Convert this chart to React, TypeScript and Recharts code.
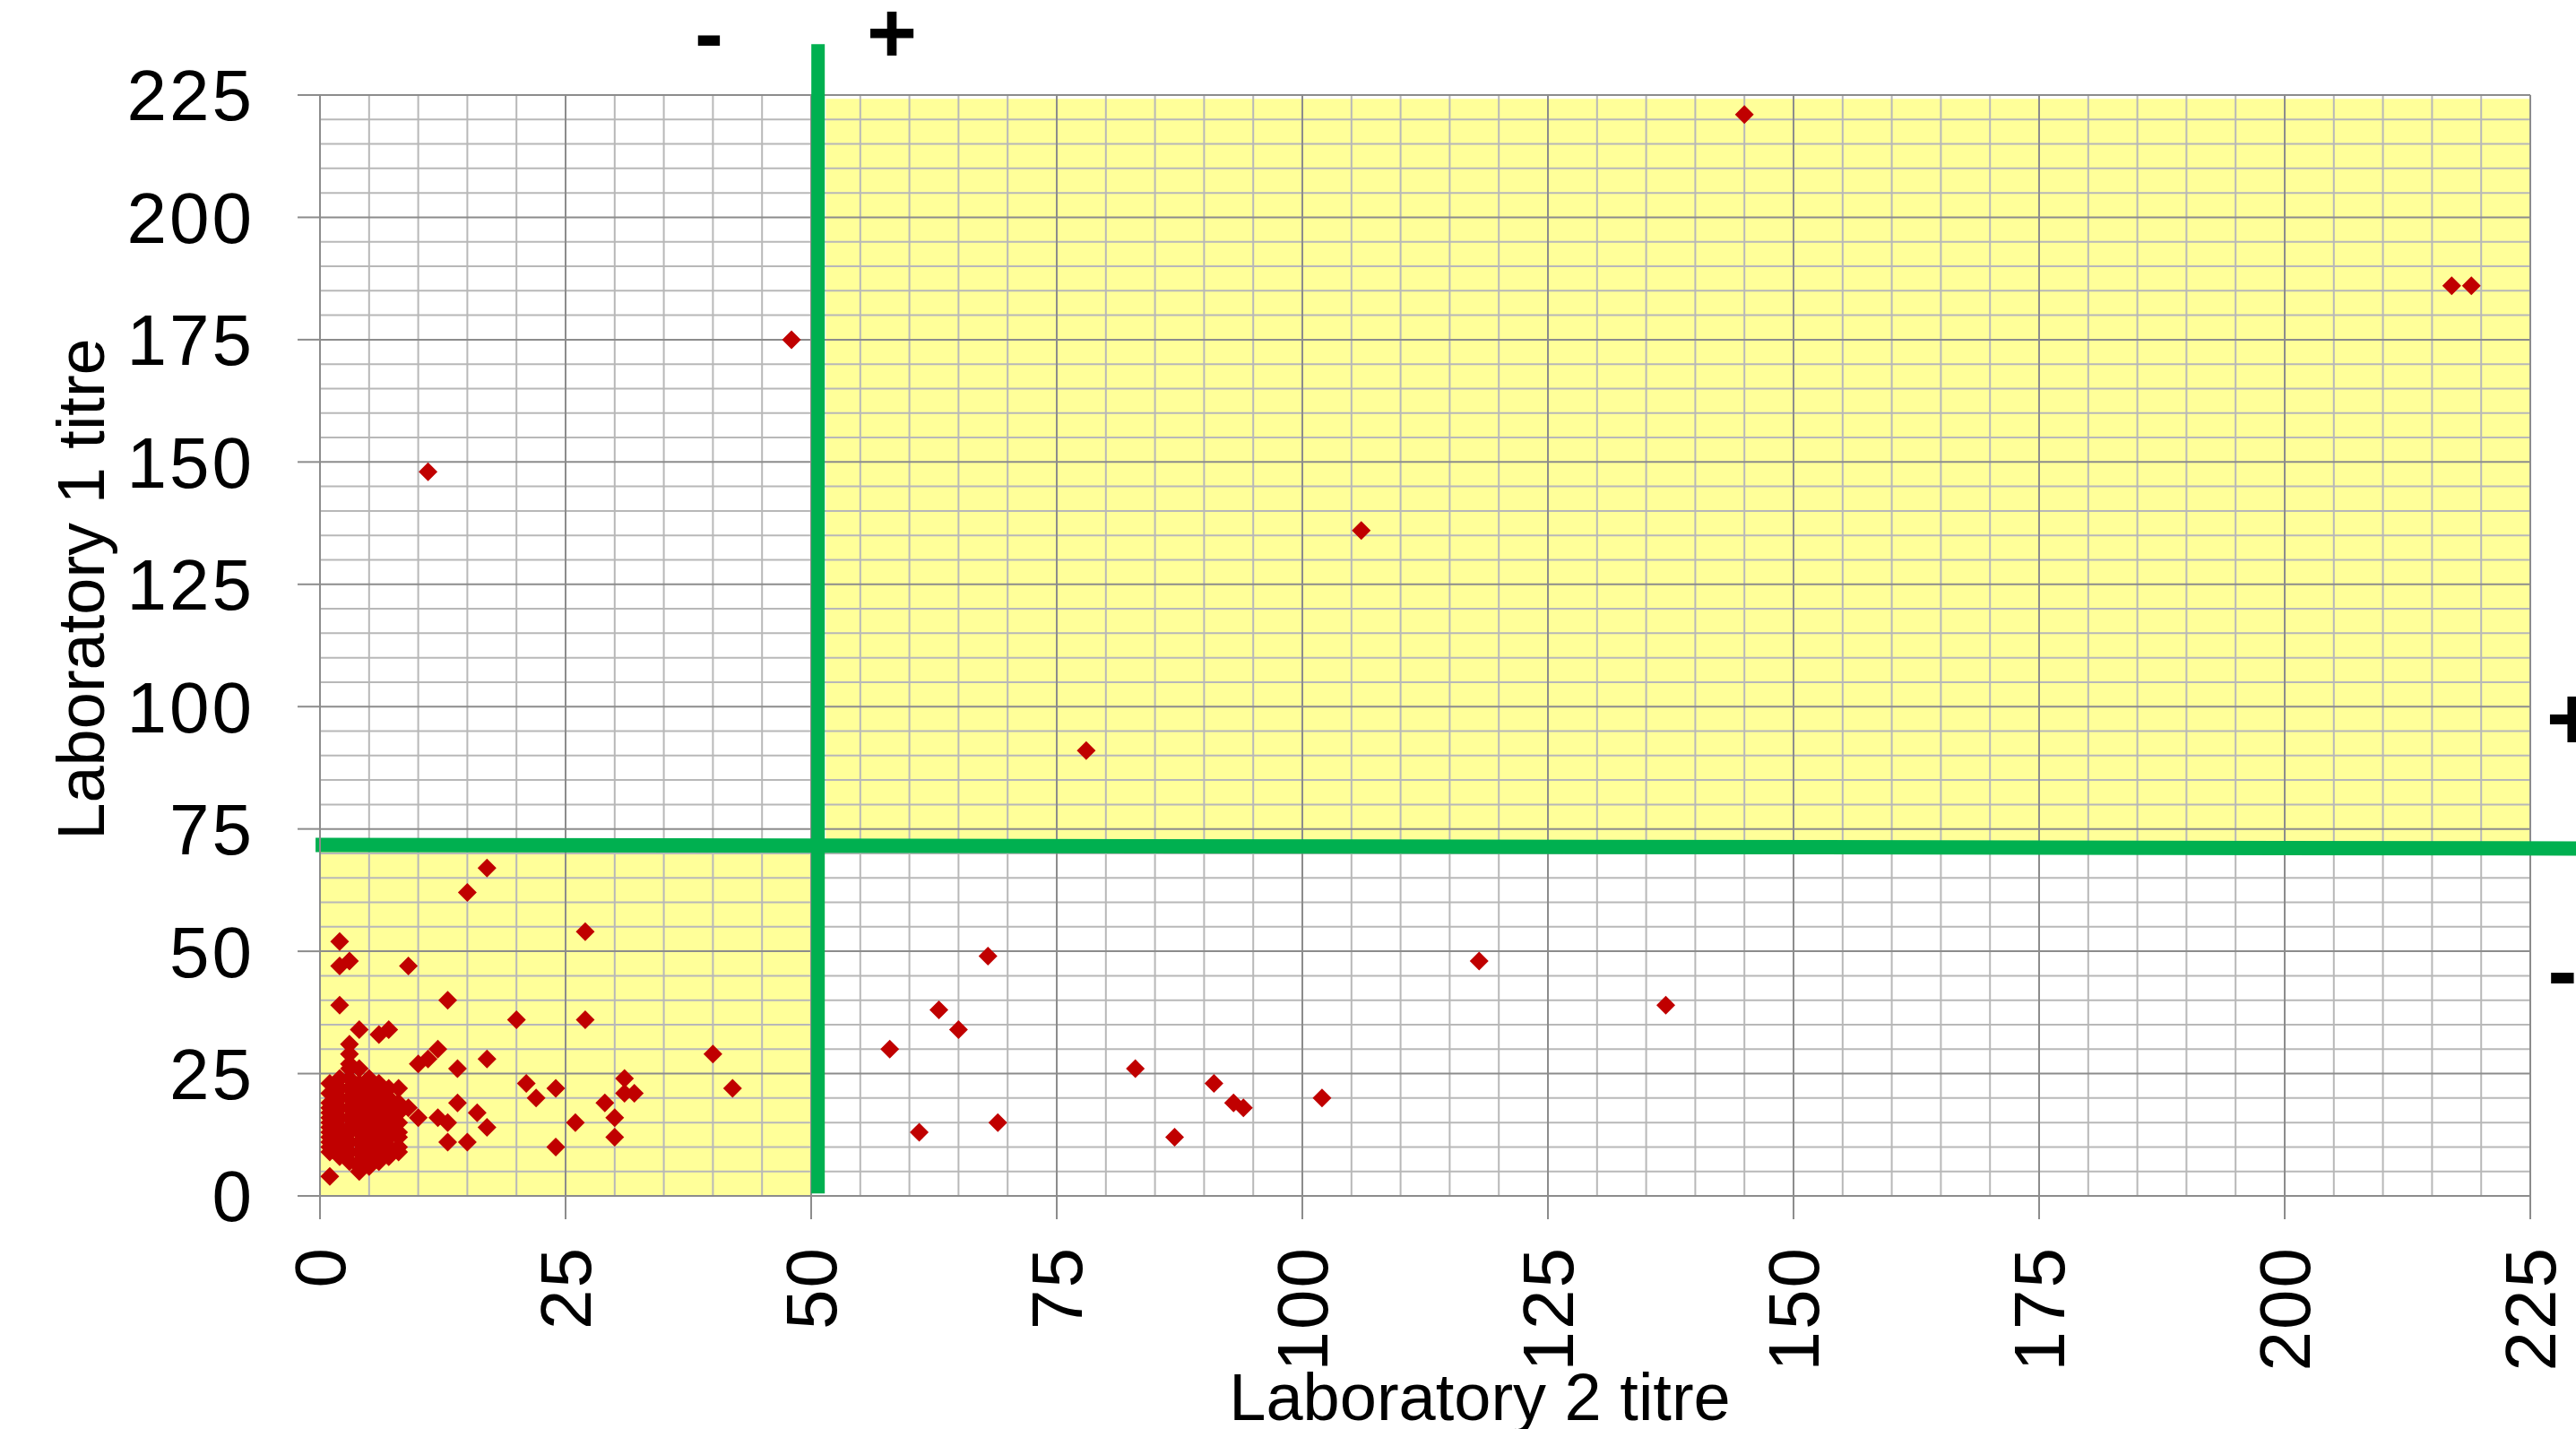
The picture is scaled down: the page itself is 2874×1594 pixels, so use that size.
import React from "react"
import {
  ScatterChart, Scatter, XAxis, YAxis, CartesianGrid,
  ReferenceArea, ReferenceLine,
} from "recharts"

const lab2Titre = [
  145, 217, 219, 48, 11, 106, 78,
  17, 15, 27, 2, 3, 2, 9, 2, 13, 20, 27,
  118, 137, 68, 63, 65, 58, 83, 91, 93, 94, 102, 61, 69, 87,
  40, 42,
  4, 6, 7, 3, 12, 11, 10, 17, 14, 3, 3, 4,
  21, 24, 22, 31, 31, 32, 29, 30, 30, 26, 24,
  14, 16, 17, 12, 13, 13, 15, 9, 10, 8, 7, 6, 1, 1, 4,
  3, 2, 3, 5, 4, 2, 3, 5, 1, 4, 6, 2, 3, 5, 7, 1, 4, 6, 8,
  1, 2, 3, 5, 7, 1, 4, 6, 8, 1, 2, 3, 5, 7, 1, 4, 6, 8,
  1, 2, 3, 5, 7, 1, 3, 4, 6, 8, 1, 2, 5, 7, 8, 1, 3, 4, 6,
  1, 2, 5, 7, 8, 1, 3, 4, 6, 8, 2, 5, 7, 3, 4, 6, 4, 5,
]
const lab1Titre = [
  221, 186, 186, 175, 148, 136, 91,
  67, 62, 54, 52, 48, 47, 47, 39, 40, 36, 36,
  48, 39, 49, 38, 34, 30, 26, 23, 19, 18, 20, 13, 15, 12,
  29, 22,
  34, 33, 34, 31, 30, 28, 27, 28, 26, 29, 27, 26,
  23, 22, 20, 24, 21, 21, 19, 16, 12, 15, 10,
  19, 17, 14, 16, 15, 11, 11, 18, 16, 22, 22, 23, 23, 4, 5,
  26, 24, 24, 24, 23, 22, 22, 22, 21, 21, 21, 20, 20, 20, 20, 19, 19, 19, 19,
  18, 18, 18, 18, 18, 17, 17, 17, 17, 16, 16, 16, 16, 16, 15, 15, 15, 15,
  14, 14, 14, 14, 14, 13, 13, 13, 13, 13, 12, 12, 12, 12, 12, 11, 11, 11, 11,
  10, 10, 10, 10, 10, 9, 9, 9, 9, 9, 8, 8, 8, 7, 7, 7, 6, 6,
]

const majorTicks = [0, 25, 50, 75, 100, 125, 150, 175, 200, 225]
const minorTicks = [
  5, 10, 15, 20, 30, 35, 40, 45, 55, 60, 65, 70, 80, 85, 90, 95,
  105, 110, 115, 120, 130, 135, 140, 145, 155, 160, 165, 170,
  180, 185, 190, 195, 205, 210, 215, 220,
]

// cut-off lines between negative and positive results
const lab2Cutoff = 50.7
const lab1Cutoff = 71.75

const points = lab2Titre.map((x, i) => ({ x, y: lab1Titre[i] }))

const FONT = "'Liberation Sans', Arial, sans-serif"
const GREEN = "#00B050"
const YELLOW = "#FFFF99"
const RED = "#C00000"

const Diamond = (props: any) => {
  const { cx, cy } = props
  const r = 10.5
  return (
    <path
      d={`M${cx},${cy - r}L${cx + r},${cy}L${cx},${cy + r}L${cx - r},${cy}Z`}
      fill={RED}
    />
  )
}

const XTick = (props: any) => {
  const { x, y, payload } = props
  return (
    <text
      transform={`translate(${x},${y}) rotate(-90)`}
      textAnchor="end"
      dy="0.355em"
      fontSize={80}
      letterSpacing={2}
      fontFamily={FONT}
      fill="#000"
    >
      {payload.value}
    </text>
  )
}

export default function App() {
  return (
    <div style={{ position: "absolute", left: 0, top: 0, background: "#fff" }}>
      <ScatterChart
        width={2874}
        height={1594}
        margin={{ top: 106, right: 51, left: 0, bottom: 0 }}
      >
        <ReferenceArea
          x1={0} x2={50} y1={0} y2={lab1Cutoff}
          fill={YELLOW} fillOpacity={1} stroke="none" zIndex={-300}
        />
        <ReferenceArea
          x1={51.5} x2={225} y1={lab1Cutoff} y2={224.2}
          fill={YELLOW} fillOpacity={1} stroke="none" zIndex={-300}
        />
        <CartesianGrid
          horizontalValues={minorTicks}
          verticalValues={minorTicks}
          stroke="#b8b8b8"
          strokeWidth={2}
          zIndex={-200}
        />
        <CartesianGrid stroke="#8c8c8c" strokeWidth={2} zIndex={-100} />
        <XAxis
          type="number"
          dataKey="x"
          domain={[0, 225]}
          ticks={majorTicks}
          interval={0}
          height={260}
          tickSize={26}
          tickMargin={30}
          axisLine={{ stroke: "#8c8c8c", strokeWidth: 2 }}
          tickLine={{ stroke: "#8c8c8c", strokeWidth: 2 }}
          tick={(p: any) => <XTick {...p} />}
        />
        <YAxis
          type="number"
          dataKey="y"
          domain={[0, 225]}
          ticks={majorTicks}
          interval={0}
          width={357}
          tickSize={25}
          tickMargin={48}
          axisLine={{ stroke: "#8c8c8c", strokeWidth: 2 }}
          tickLine={{ stroke: "#8c8c8c", strokeWidth: 2 }}
          tick={{ fontSize: 80, letterSpacing: 3, fill: "#000", fontFamily: FONT }}
        />
        <ReferenceLine
          segment={[{ x: lab2Cutoff, y: 0.5 }, { x: lab2Cutoff, y: 235.4 }]}
          stroke={GREEN}
          strokeWidth={15}
          ifOverflow="visible"
        />
        <ReferenceLine
          segment={[{ x: -0.45, y: lab1Cutoff }, { x: 232, y: 71.0 }]}
          stroke={GREEN}
          strokeWidth={16}
          ifOverflow="visible"
        />
        <Scatter data={points} shape={Diamond} fill={RED} isAnimationActive={false} />

        <text x={791} y={70} textAnchor="middle" fontSize={96} fontWeight="bold" fontFamily={FONT}>-</text>
        <text x={995} y={70} textAnchor="middle" fontSize={96} fontWeight="bold" fontFamily={FONT}>+</text>
        <text x={2870} y={836} textAnchor="middle" fontSize={100} fontWeight="bold" fontFamily={FONT}>+</text>
        <text x={2859} y={1117} textAnchor="middle" fontSize={100} fontWeight="bold" fontFamily={FONT}>-</text>

        <text
          x={1651} y={1584} textAnchor="middle"
          fontSize={74} fontFamily={FONT} fill="#000"
        >
          Laboratory 2 titre
        </text>
        <text
          transform="translate(90,657) rotate(-90)"
          textAnchor="middle" dy="0.355em"
          fontSize={74} fontFamily={FONT} fill="#000"
        >
          Laboratory 1 titre
        </text>
      </ScatterChart>
    </div>
  )
}
